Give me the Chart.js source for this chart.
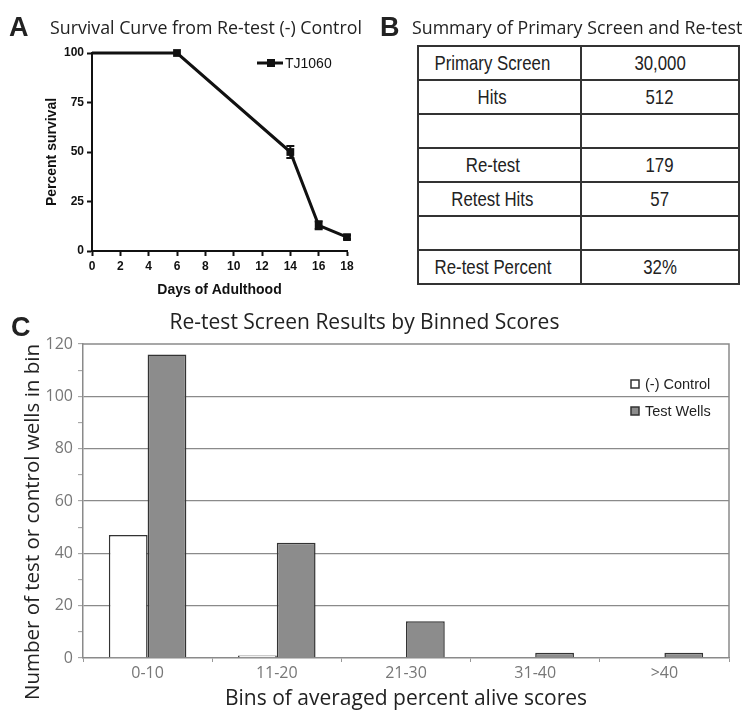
<!DOCTYPE html>
<html>
<head>
<meta charset="utf-8">
<script src="https://cdn.jsdelivr.net/npm/chart.js@4.4.1/dist/chart.umd.min.js"></script>
<style>
  html, body { margin: 0; padding: 0; background: #fff; }
  #page { position: relative; width: 745px; height: 712px; overflow: hidden; background: #fff; }
  canvas { position: absolute; }
  .letter { position: absolute; font-family: "Liberation Sans", Arial, sans-serif; font-weight: bold; font-size: 27px; color: #222; line-height: 1; }
  .ptitle { position: absolute; font-family: "Open Sans", sans-serif; color: #222; white-space: nowrap; line-height: 1; }
  table.summary { position: absolute; left: 417px; top: 45px; width: 323px; height: 240px; border-collapse: collapse; table-layout: fixed; }
  table.summary td { border: 2px solid #333; padding: 0; height: 32px; text-align: center; vertical-align: middle;
    font-family: "Liberation Sans Narrow", "Arial Narrow", "Liberation Sans", sans-serif; font-size: 21px; color: #222; }
  table.summary td span { display: inline-block; transform: scaleX(0.8); white-space: nowrap; }
  table.summary td.c1 { width: 147px; padding-right: 14px; }
</style>
</head>
<body>
<div id="page">
  <canvas id="chartA" width="380" height="300" style="left:0;top:0;width:380px;height:300px"></canvas>
  <canvas id="chartC" width="745" height="412" style="left:0;top:300px;width:745px;height:412px"></canvas>
  <div class="letter" style="left:9px;top:14px">A</div>
  <div class="ptitle" style="left:50px;top:19px;font-size:17.8px">Survival Curve from Re-test (-) Control</div>
  <div class="letter" style="left:380px;top:14px">B</div>
  <div class="ptitle" style="left:412px;top:19px;font-size:17.8px">Summary of Primary Screen and Re-test</div>
  <table class="summary" id="summary"></table>
  <div class="letter" style="left:11px;top:314px">C</div>
</div>
<script>
// ---------------- DATA ----------------
// Panel A: survival curve
const daysA = [0, 6, 14, 16, 18];
const survivalA = [100, 100, 50, 13, 7];
const survivalErrA = [0, 0, 3, 2, 1];
const seriesNameA = 'TJ1060';

// Panel B: summary table
const tableLabels = ['Primary Screen', 'Hits', '', 'Re-test', 'Retest Hits', '', 'Re-test Percent'];
const tableValues = ['30,000', '512', '', '179', '57', '', '32%'];

// Panel C: binned scores
const binLabels = ['0-10', '11-20', '21-30', '31-40', '>40'];
const controlCounts = [47, 1, 0, 0, 0];
const testCounts = [116, 44, 14, 2, 2];
const seriesNamesC = ['(-) Control', 'Test Wells'];

// ---------------- TABLE ----------------
const tbl = document.getElementById('summary');
tableLabels.forEach((lab, i) => {
  const tr = document.createElement('tr');
  const a = document.createElement('td'); a.className = 'c1';
  const sa = document.createElement('span'); sa.textContent = lab; a.appendChild(sa);
  const b = document.createElement('td');
  const sb = document.createElement('span'); sb.textContent = tableValues[i]; b.appendChild(sb);
  tr.appendChild(a); tr.appendChild(b); tbl.appendChild(tr);
});

// ---------------- PANEL A ----------------
const errorBarPlugin = {
  id: 'errorBars',
  afterDatasetsDraw(chart) {
    const ctx = chart.ctx, xs = chart.scales.x, ys = chart.scales.y;
    ctx.save();
    ctx.strokeStyle = '#111'; ctx.lineWidth = 2;
    daysA.forEach((d, i) => {
      const e = survivalErrA[i];
      if (!e) return;
      const x = xs.getPixelForValue(d);
      const y1 = ys.getPixelForValue(survivalA[i] + e);
      const y2 = ys.getPixelForValue(survivalA[i] - e);
      ctx.beginPath();
      ctx.moveTo(x, y1); ctx.lineTo(x, y2);
      ctx.moveTo(x - 4, y1); ctx.lineTo(x + 4, y1);
      ctx.moveTo(x - 4, y2); ctx.lineTo(x + 4, y2);
      ctx.stroke();
    });
    ctx.restore();
  }
};
const legendAPlugin = {
  id: 'legendA',
  afterDraw(chart) {
    const ctx = chart.ctx;
    const ds = chart.data.datasets[0];
    ctx.save();
    ctx.strokeStyle = '#111'; ctx.lineWidth = 3;
    ctx.beginPath(); ctx.moveTo(257, 63); ctx.lineTo(283, 63); ctx.stroke();
    ctx.fillStyle = '#111'; ctx.fillRect(267, 59, 8, 8);
    ctx.font = '14px "Liberation Sans", Arial, sans-serif';
    ctx.textBaseline = 'middle'; ctx.textAlign = 'left';
    ctx.fillText(ds.label, 285, 64);
    ctx.restore();
  }
};
const boldFont = { family: '"Liberation Sans", Arial, sans-serif', weight: 'bold', size: 12 };
const axisTitleFontA = { family: '"Liberation Sans", Arial, sans-serif', weight: 'bold', size: 14 };
new Chart(document.getElementById('chartA'), {
  type: 'line',
  data: {
    datasets: [{
      label: seriesNameA,
      data: daysA.map((d, i) => ({ x: d, y: survivalA[i] })),
      borderColor: '#111', backgroundColor: '#111', borderWidth: 3,
      pointStyle: 'rect', pointRadius: daysA.map((d, i) => i === 0 ? 0 : 5.5),
      pointBackgroundColor: '#111', pointBorderColor: '#111', pointBorderWidth: 0,
      tension: 0, clip: false
    }]
  },
  options: {
    responsive: false, animation: false, events: [],
    layout: { padding: { left: 0, top: 53, right: 33, bottom: 0 } },
    plugins: { legend: { display: false }, tooltip: { enabled: false }, title: { display: false } },
    scales: {
      x: {
        type: 'linear', min: 0, max: 18,
        afterFit: s => { s.height = 49; },
        ticks: { stepSize: 2, color: '#111', font: boldFont, padding: 3, maxRotation: 0 },
        grid: { display: true, drawOnChartArea: false, tickLength: 5, tickColor: '#111', tickWidth: 2 },
        border: { color: '#111', width: 2 },
        title: { display: true, text: 'Days of Adulthood', color: '#111', font: axisTitleFontA, padding: { top: 0, bottom: 1 } }
      },
      y: {
        min: 0, max: 100,
        afterFit: s => { s.width = 92; },
        ticks: { stepSize: 25, color: '#111', font: boldFont, padding: 3 },
        grid: { display: true, drawOnChartArea: false, tickLength: 5, tickColor: '#111', tickWidth: 2 },
        border: { color: '#111', width: 2 },
        title: { display: true, text: 'Percent survival', color: '#111', font: axisTitleFontA, padding: { top: 44, bottom: 0 } }
      }
    }
  },
  plugins: [errorBarPlugin, legendAPlugin]
});

// ---------------- PANEL C ----------------
const frameLegendCPlugin = {
  id: 'frameLegendC',
  afterDraw(chart) {
    const ctx = chart.ctx, a = chart.chartArea;
    ctx.save();
    // plot frame top & right
    ctx.strokeStyle = '#8a8a8a'; ctx.lineWidth = 1.5;
    ctx.beginPath(); ctx.moveTo(a.left, a.top); ctx.lineTo(a.right, a.top); ctx.lineTo(a.right, a.bottom); ctx.stroke();
    // legend
    const rows = [84, 111];
    ctx.font = '14.5px "Liberation Sans", Arial, sans-serif';
    ctx.textBaseline = 'middle'; ctx.textAlign = 'left';
    chart.data.datasets.forEach((ds, i) => {
      const y = rows[i];
      ctx.fillStyle = ds.backgroundColor; ctx.strokeStyle = '#333'; ctx.lineWidth = 1.5;
      ctx.fillRect(631, y - 4, 8, 8); ctx.strokeRect(631, y - 4, 8, 8);
      ctx.fillStyle = '#222';
      ctx.fillText(ds.label, 645, y + 1);
    });
    // y axis title
    ctx.translate(33, 222); ctx.rotate(-Math.PI / 2);
    ctx.font = '20.5px "Open Sans", sans-serif'; ctx.textAlign = 'center'; ctx.textBaseline = 'middle'; ctx.fillStyle = '#222';
    ctx.fillText('Number of test or control wells in bin', 0, 0);
    ctx.restore();
  }
};
const tickFontC = { family: '"Open Sans", sans-serif', size: 16 };
new Chart(document.getElementById('chartC'), {
  type: 'bar',
  data: {
    labels: binLabels,
    datasets: [
      { label: seriesNamesC[0], data: controlCounts, backgroundColor: '#ffffff', borderColor: '#333', borderWidth: 1.5, categoryPercentage: 0.6, barPercentage: 1.0 },
      { label: seriesNamesC[1], data: testCounts, backgroundColor: '#8c8c8c', borderColor: '#333', borderWidth: 1.5, categoryPercentage: 0.6, barPercentage: 1.0 }
    ]
  },
  options: {
    responsive: false, animation: false, events: [],
    layout: { padding: { left: 0, top: 0, right: 16, bottom: 0 } },
    plugins: {
      legend: { display: false }, tooltip: { enabled: false },
      title: { display: true, text: 'Re-test Screen Results by Binned Scores', color: '#222', font: { family: '"Open Sans", sans-serif', size: 21, weight: 'normal' }, padding: { top: 10, bottom: 8.8 } }
    },
    scales: {
      x: {
        afterFit: s => { s.height = 54; },
        ticks: { color: '#777', font: tickFontC, padding: 2, maxRotation: 0 },
        grid: { display: true, offset: true, drawOnChartArea: false, tickLength: 4, tickColor: '#999', tickWidth: 1 },
        border: { color: '#8a8a8a', width: 1.5 },
        title: { display: true, text: 'Bins of averaged percent alive scores', color: '#222', font: { family: '"Open Sans", sans-serif', size: 21 }, padding: { top: 0, bottom: 0 } }
      },
      y: {
        min: 0, max: 120,
        afterFit: s => { s.width = 83; },
        ticks: { stepSize: 10, color: '#777', font: tickFontC, padding: 5, callback: v => (v % 20 === 0 ? v : '') },
        grid: {
          display: true, tickLength: 5, tickWidth: 1, tickColor: '#999',
          color: c => (c.tick && c.tick.value % 20 === 0 && c.tick.value > 0 && c.tick.value < 120) ? '#8a8a8a' : 'rgba(0,0,0,0)',
          lineWidth: 1.3
        },
        border: { color: '#8a8a8a', width: 1.5 }
      }
    }
  },
  plugins: [frameLegendCPlugin]
});
</script>
</body>
</html>
